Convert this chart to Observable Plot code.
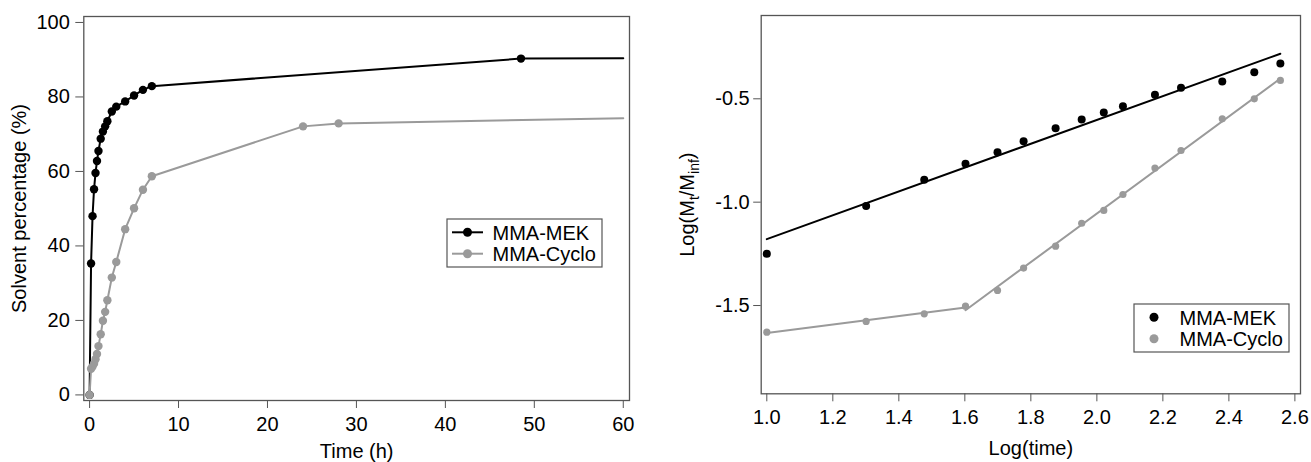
<!DOCTYPE html>
<html><head><meta charset="utf-8">
<script src="https://cdn.jsdelivr.net/npm/d3@7"></script>
<script src="https://cdn.jsdelivr.net/npm/@observablehq/plot@0.6"></script>
<style>
html,body{margin:0;padding:0;background:#fff;}
#chart{position:relative;width:1311px;height:462px;overflow:hidden;font-family:"Liberation Sans",Arial,Helvetica,sans-serif;}
#left,#right,.legend{position:absolute;top:0;}
#left{left:0;} #right{left:650px;}
</style></head><body>
<div id="chart"><div id="left"></div><div id="right"></div></div>
<script>
// ---------- Data: left panel (solvent uptake vs time) ----------
const seriesNames = ["MMA-MEK", "MMA-Cyclo"];
const sampleTime = [0, 0.167, 0.333, 0.5, 0.667, 0.833, 1, 1.25, 1.5, 1.75, 2, 2.5, 3, 4, 5, 6, 7];
const mekPct     = [0, 35.3, 48.0, 55.2, 59.6, 62.8, 65.5, 68.8, 70.7, 72.1, 73.5, 76.1, 77.4, 78.8, 80.4, 81.9, 82.9];
const cycloPct   = [0, 7.0, 7.6, 8.4, 9.6, 11.0, 13.1, 16.3, 19.9, 22.3, 25.4, 31.5, 35.7, 44.5, 50.1, 55.1, 58.7];
const mekLateTime = [48.5];
const mekLatePct  = [90.3];
const cycloLateTime = [24, 28];
const cycloLatePct  = [72.1, 72.9];
const lineEndTime = 60;
const mekEndPct = 90.4;
const cycloEndPct = 74.3;
const leftXTicks = [0, 10, 20, 30, 40, 50, 60];
const leftYTicks = [0, 20, 40, 60, 80, 100];

// ---------- Data: right panel (log–log kinetics) ----------
const logTime  = [1.000, 1.301, 1.477, 1.602, 1.699, 1.778, 1.875, 1.954, 2.021, 2.079, 2.176, 2.255, 2.380, 2.477, 2.556];
const mekLog   = [-1.250, -1.019, -0.892, -0.814, -0.758, -0.705, -0.642, -0.600, -0.566, -0.536, -0.480, -0.447, -0.416, -0.371, -0.329];
const cycloLog = [-1.629, -1.577, -1.540, -1.503, -1.427, -1.319, -1.213, -1.102, -1.040, -0.963, -0.835, -0.750, -0.597, -0.500, -0.411];
const cycloBreak = 1.602;
const rightXTicks = [1.0, 1.2, 1.4, 1.6, 1.8, 2.0, 2.2, 2.4, 2.6];
const rightYTicks = [-1.5, -1.0, -0.5];

const BLACK = "#000000", GRAY = "#9a9a9a", AXIS = "#555555";
const FONT = '"Liberation Sans", Arial, Helvetica, sans-serif';

// build tables
const mekPts = sampleTime.map((t, i) => ({time: t, pct: mekPct[i]}))
  .concat(mekLateTime.map((t, i) => ({time: t, pct: mekLatePct[i]})));
const cycloPts = sampleTime.map((t, i) => ({time: t, pct: cycloPct[i]}))
  .concat(cycloLateTime.map((t, i) => ({time: t, pct: cycloLatePct[i]})));
const mekLine = mekPts.concat([{time: lineEndTime, pct: mekEndPct}]);
const cycloLine = cycloPts.concat([{time: lineEndTime, pct: cycloEndPct}]);

const mekLogPts = logTime.map((x, i) => ({x, y: mekLog[i]}));
const cycloLogPts = logTime.map((x, i) => ({x, y: cycloLog[i]}));
const cycloSegs = [
  ...cycloLogPts.filter(d => d.x <= cycloBreak).map(d => ({...d, seg: "early"})),
  ...cycloLogPts.filter(d => d.x >= cycloBreak).map(d => ({...d, seg: "late"}))
];

const left = Plot.plot({
  width: 640, height: 462,
  marginTop: 16, marginBottom: 62, marginLeft: 83.3, marginRight: 11,
  style: {fontFamily: FONT, fontSize: "19.5px", color: "black", background: "white", overflow: "visible"},
  x: {domain: [-0.65, 60.7]},
  y: {domain: [-1.5, 101.6]},
  marks: [
    Plot.frame({stroke: AXIS, strokeWidth: 1.3}),
    Plot.axisX({ticks: leftXTicks, tickFormat: d => String(d), tickSize: 8, tickPadding: 8, stroke: AXIS,
      label: "Time (h)", labelAnchor: "center", labelOffset: 57, labelArrow: "none", fontSize: 20}),
    Plot.axisY({ticks: leftYTicks, tickFormat: d => String(d), tickSize: 8, tickPadding: 6, stroke: AXIS,
      label: "Solvent percentage (%)", labelAnchor: "center", labelOffset: 72, labelArrow: "none", fontSize: 20}),
    Plot.line(mekLine, {x: "time", y: "pct", stroke: BLACK, strokeWidth: 2}),
    Plot.dot(mekPts, {x: "time", y: "pct", r: 4.2, fill: BLACK}),
    Plot.line(cycloLine, {x: "time", y: "pct", stroke: GRAY, strokeWidth: 2}),
    Plot.dot(cycloPts, {x: "time", y: "pct", r: 4.2, fill: GRAY})
  ]
});
document.getElementById("left").appendChild(left);

const yLabelText = "Log(Mt/Minf)";
const right = Plot.plot({
  width: 661, height: 462,
  marginTop: 15, marginBottom: 68.7, marginLeft: 110.7, marginRight: 11,
  style: {fontFamily: FONT, fontSize: "19.5px", color: "black", background: "white", overflow: "visible"},
  x: {domain: [0.983, 2.617]},
  y: {domain: [-1.927, -0.097]},
  marks: [
    Plot.frame({stroke: AXIS, strokeWidth: 1.3}),
    Plot.axisX({ticks: rightXTicks, tickFormat: d => d.toFixed(1), tickSize: 8, tickPadding: 8, stroke: AXIS,
      label: "Log(time)", labelAnchor: "center", labelOffset: 61, labelArrow: "none", fontSize: 20}),
    Plot.axisY({ticks: rightYTicks, tickFormat: d => d.toFixed(1), tickSize: 7.5, tickPadding: 4, stroke: AXIS,
      label: yLabelText, labelAnchor: "center", labelOffset: 81, labelArrow: "none", fontSize: 20}),
    Plot.linearRegressionY(mekLogPts, {x: "x", y: "y", stroke: BLACK, strokeWidth: 2, ci: 0}),
    Plot.linearRegressionY(cycloSegs, {x: "x", y: "y", z: "seg", stroke: GRAY, strokeWidth: 2, ci: 0}),
    Plot.dot(mekLogPts, {x: "x", y: "y", r: 4, fill: BLACK}),
    Plot.dot(cycloLogPts, {x: "x", y: "y", r: 3.6, fill: GRAY})
  ]
});
document.getElementById("right").appendChild(right);

// subscripts in the right y-axis label
right.querySelectorAll("text").forEach(t => {
  if (t.textContent === yLabelText) {
    const ns = "http://www.w3.org/2000/svg";
    while (t.firstChild) t.removeChild(t.firstChild);
    const parts = [["Log(M", 0, null], ["t", 5, 14], ["/M", -5, null], ["inf", 5, 14], [")", -5, null]];
    parts.forEach(([s, dy, fs]) => {
      const ts = document.createElementNS(ns, "tspan");
      ts.textContent = s;
      if (dy) ts.setAttribute("dy", dy);
      if (fs) ts.setAttribute("font-size", fs);
      t.appendChild(ts);
    });
  }
});

// legends
function legend(container, x, y, withLine, rowDot) {
  const W = 155, H = 48;
  const svg = d3.select(container).append("svg")
    .attr("class", "legend")
    .attr("width", W + 2).attr("height", H + 2)
    .style("position", "absolute").style("left", (x - 1) + "px").style("top", (y - 1) + "px")
    .style("font-family", FONT).style("font-size", "20px");
  svg.append("rect").attr("x", 1).attr("y", 1).attr("width", W).attr("height", H)
    .attr("fill", "white").attr("stroke", AXIS).attr("stroke-width", 1.2);
  const rows = [{name: seriesNames[0], color: BLACK, cy: 14.3}, {name: seriesNames[1], color: GRAY, cy: 35.7}];
  rows.forEach(r => {
    if (withLine) svg.append("line").attr("x1", 6).attr("x2", 37).attr("y1", r.cy).attr("y2", r.cy)
      .attr("stroke", r.color).attr("stroke-width", 2);
    svg.append("circle").attr("cx", rowDot).attr("cy", r.cy).attr("r", 4.5).attr("fill", r.color);
    svg.append("text").attr("x", 46.5).attr("y", r.cy + 7.2).attr("fill", "black").text(r.name);
  });
}
const chart = document.getElementById("chart");
legend(chart, 447, 219, true, 21.5);
legend(chart, 1134, 304, false, 21);
</script></body></html>
